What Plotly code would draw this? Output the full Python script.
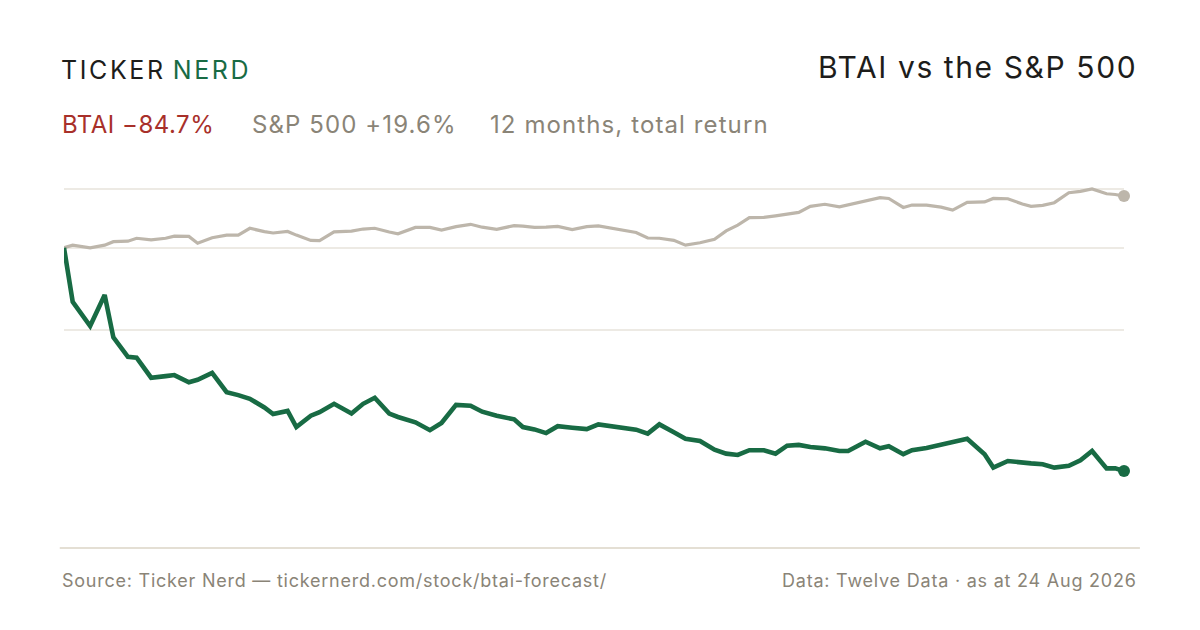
import pandas as pd
import plotly.graph_objects as go

# days since 24 Aug 2025
days = [0, 3, 9, 14, 17, 22, 25, 30, 35, 38, 43, 46, 51, 56, 60, 64, 69, 72, 77, 80,
        85, 88, 93, 99, 103, 107, 112, 115, 121, 126, 130, 135, 140, 144, 149, 155, 158, 162, 166, 170,
        175, 180, 184, 192, 197, 201, 205, 210, 214, 219, 224, 228, 232, 236, 241, 245, 249, 253, 257, 262,
        267, 270, 276, 281, 284, 289, 292, 297, 302, 306, 311, 317, 320, 325, 330, 333, 337, 341, 346, 350,
        354, 359, 362, 365]

# total return, percent
btai = [0, -20.5, -29.7, -17.9, -34.0, -41.4, -41.7, -49.3, -48.7, -48.3, -51.0, -50.1, -47.5, -54.8, -55.9, -57.3, -60.6, -63.1, -61.9, -68.0,
        -63.7, -62.4, -59.2, -62.9, -59.2, -56.9, -62.9, -64.2, -66.2, -69.2, -66.5, -59.6, -59.9, -62.2, -63.7, -65.1, -68.0, -68.9, -70.3, -67.7,
        -68.3, -68.8, -67.0, -68.0, -69.0, -70.5, -67.0, -70.0, -72.5, -73.3, -76.6, -78.1, -78.6, -76.8, -76.8, -78.1, -75.1, -74.8, -75.6, -76.1,
        -77.1, -77.1, -73.6, -76.1, -75.3, -78.3, -76.8, -76.0, -74.6, -73.8, -72.5, -78.3, -83.4, -80.9, -81.6, -81.8, -82.1, -83.4, -82.7, -80.6,
        -77.1, -83.7, -83.7, -84.7]

spx = [0, 1.0, 0.0, 1.0, 2.3, 2.5, 3.6, 3.0, 3.6, 4.4, 4.3, 1.7, 3.8, 4.8, 4.8, 7.4, 6.1, 5.6, 6.2, 4.8,
       2.8, 2.7, 6.0, 6.3, 7.1, 7.4, 6.0, 5.3, 7.7, 7.7, 6.7, 8.0, 8.9, 7.8, 7.0, 8.4, 8.2, 7.7, 7.8, 8.1,
       6.9, 8.0, 8.3, 6.6, 5.8, 3.7, 3.6, 2.8, 1.0, 1.9, 3.2, 6.4, 8.6, 11.4, 11.5, 12.1, 12.7, 13.4, 15.7, 16.5,
       15.5, 16.3, 17.9, 19.0, 18.7, 15.3, 16.2, 16.2, 15.4, 14.3, 17.2, 17.4, 18.7, 18.6, 16.6, 15.7, 16.1, 17.1, 20.9, 21.4,
       22.3, 20.5, 20.2, 19.6]

grid_vals = [22.2, 0, -31.1]

start = pd.Timestamp("2025-08-24")
dates = start + pd.to_timedelta(days, unit="D")

GREEN = "#186b44"
SAND = "#bdb6ab"
RED = "#a8302a"
MUTED = "#8a8477"
INK = "#1d1d1b"
FONT = "Inter"

W, H = 1192, 622
L, R, T, B = 56, 76, 162, 82

fig = go.Figure()
fig.add_trace(go.Scatter(x=dates, y=spx, mode="lines", line=dict(color=SAND, width=3.2),
                         hoverinfo="skip"))
fig.add_trace(go.Scatter(x=dates, y=btai, mode="lines", line=dict(color=GREEN, width=4.6),
                         hoverinfo="skip"))
fig.add_trace(go.Scatter(x=[dates[-1]], y=[spx[-1]], mode="markers", cliponaxis=False,
                         marker=dict(color=SAND, size=12), hoverinfo="skip"))
fig.add_trace(go.Scatter(x=[dates[-1]], y=[btai[-1]], mode="markers", cliponaxis=False,
                         marker=dict(color=GREEN, size=12), hoverinfo="skip"))

fig.update_layout(
    width=W, height=H,
    margin=dict(l=L, r=R, t=T, b=B),
    paper_bgcolor="white", plot_bgcolor="white",
    showlegend=False,
    font=dict(family=FONT, color=MUTED),
    xaxis=dict(range=[dates[0], dates[-1]], visible=False),
    yaxis=dict(range=[-113.9, 29.5], tickvals=grid_vals, showticklabels=False,
               showgrid=True, gridcolor="#edeae4", gridwidth=1.5, zeroline=False),
)

# baseline rule under the plot
fig.add_shape(type="line", xref="paper", yref="paper", x0=-0.004, x1=1.015, y0=0, y1=0,
              line=dict(color="#e4dfd4", width=2))


def spaced(txt, ls):
    return "<span style='letter-spacing:%spx'>%s</span>" % (ls, txt)


def note(px, py, text, size, color, anchor="left"):
    # px, py are page pixels; page has an 8px body margin
    fx, fy = px - 8, py - 8
    fig.add_annotation(x=(fx - L) / (W - L - R), y=(H - B - fy) / (H - T - B),
                       xref="paper", yref="paper", xanchor=anchor, yanchor="middle",
                       text=text, showarrow=False,
                       font=dict(size=size, color=color, family=FONT))


note(59, 70, spaced("TICKER\u2009", 2.6) + "<span style='letter-spacing:2.6px;color:%s'>NERD</span>" % GREEN,
     25, INK)
note(1139, 67, spaced("BTAI vs the S&P 500", 1.6), 30, INK, anchor="right")
note(60, 124, spaced("BTAI \u221284.7%", 0.5), 24, RED)
note(250, 124, spaced("S&P 500 +19.6%", 1.1), 24, MUTED)
note(488, 124, spaced("12 months, total return", 1.1), 24, MUTED)
note(60, 580, spaced("Source: Ticker Nerd \u2014 tickernerd.com/stock/btai-forecast/", 0.76), 18, MUTED)
note(1139, 580, spaced("Data: Twelve Data \u00b7 as at 24 Aug 2026", 0.78), 18, MUTED, anchor="right")

fig.write_html("out.html")
